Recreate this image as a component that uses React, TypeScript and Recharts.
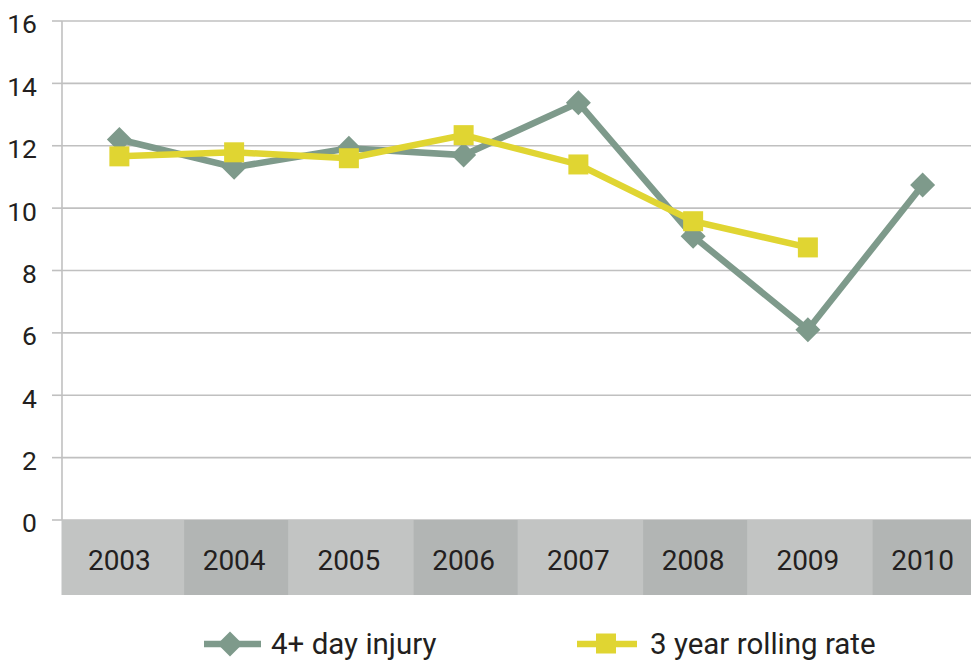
import React from 'react';
import { LineChart, Line, XAxis, YAxis, CartesianGrid, Legend } from 'recharts';

const years = ['2003', '2004', '2005', '2006', '2007', '2008', '2009', '2010'];
const injury4Day: (number | null)[] = [12.2, 11.31, 11.92, 11.7, 13.38, 9.1, 6.1, 10.74];
const rolling3Year: (number | null)[] = [11.66, 11.79, 11.6, 12.34, 11.4, 9.58, 8.74, null];
const yTicks = [0, 2, 4, 6, 8, 10, 12, 14, 16];
const seriesNames = ['4+ day injury', '3 year rolling rate'];

const data = years.map((y, i) => ({ year: y, injury: injury4Day[i], rolling: rolling3Year[i] }));

const GREEN = '#7e9a8b';
const YELLOW = '#e0d532';
const LIGHT = '#c2c4c3';
const DARK = '#b2b5b4';
const GRID = '#c0c0c0';
const TEXT = '#231f20';
const FONT = 'Roboto, "Liberation Sans", sans-serif';

const Diamond = (props: any) => {
  const { cx, cy } = props;
  if (cx == null || cy == null || props.value == null) return null;
  const r = 12.5;
  return <polygon points={`${cx},${cy - r} ${cx + r},${cy} ${cx},${cy + r} ${cx - r},${cy}`} fill={GREEN} />;
};

const Square = (props: any) => {
  const { cx, cy } = props;
  if (cx == null || cy == null || props.value == null) return null;
  return <rect x={cx - 10} y={cy - 10} width={20} height={20} fill={YELLOW} />;
};

const XTick = (props: any) => {
  const { x, y, payload, index } = props;
  const half = payload && payload.offset ? payload.offset : 57.4;
  return (
    <g>
      <rect x={x - half - 0.5} y={y} width={half * 2 + 1} height={75} fill={LIGHT} />
      {index % 2 === 1 && <rect x={x - 50} y={y} width={104} height={75} fill={DARK} />}
      <text x={x} y={y + 50} textAnchor="middle" fontSize={28} fontFamily={FONT} fill={TEXT}>
        {payload.value}
      </text>
    </g>
  );
};

const LegendContent = () => (
  <svg width={990} height={66} style={{ display: 'block' }}>
    <line x1={204} x2={261} y1={49} y2={49} stroke={GREEN} strokeWidth={6.5} />
    <polygon points={`230,36.5 242.5,49 230,61.5 217.5,49`} fill={GREEN} />
    <text x={271} y={59} fontSize={29.5} fontFamily={FONT} fill={TEXT}>{seriesNames[0]}</text>
    <line x1={577} x2={637} y1={49} y2={49} stroke={YELLOW} strokeWidth={6.5} />
    <rect x={596} y={38.5} width={20} height={20} fill={YELLOW} />
    <text x={650} y={59} fontSize={29.5} fontFamily={FONT} fill={TEXT}>{seriesNames[1]}</text>
  </svg>
);

export default function App() {
  return (
    <div style={{ position: 'fixed', left: 0, top: 0, width: 971, height: 661, overflow: 'hidden', background: '#fff' }}>
      <LineChart width={990} height={661} data={data} margin={{ top: 21, right: 10, bottom: 0, left: 0 }}>
        <CartesianGrid horizontal vertical={false} stroke={GRID} strokeWidth={1.6} />
        <XAxis
          dataKey="year"
          scale="band"
          axisLine={false}
          tickLine={false}
          tickSize={0}
          tickMargin={0}
          height={75}
          interval={0}
          tick={<XTick />}
        />
        <YAxis
          domain={[0, 16]}
          ticks={yTicks}
          width={62}
          tickSize={10}
          tickMargin={15}
          axisLine={{ stroke: GRID, strokeWidth: 1.6 }}
          tickLine={{ stroke: GRID, strokeWidth: 1.6 }}
          tick={{ fontSize: 26.5, fill: TEXT, fontFamily: FONT, dy: 3 }}
          interval={0}
        />
        <Legend
          verticalAlign="bottom"
          height={66}
          wrapperStyle={{ left: 0, bottom: 0, width: 990, height: 66 }}
          content={<LegendContent />}
        />
        <Line
          dataKey="injury"
          name={seriesNames[0]}
          stroke={GREEN}
          strokeWidth={6.5}
          dot={<Diamond />}
          activeDot={false}
          isAnimationActive={false}
        />
        <Line
          dataKey="rolling"
          name={seriesNames[1]}
          stroke={YELLOW}
          strokeWidth={6.5}
          dot={<Square />}
          activeDot={false}
          isAnimationActive={false}
        />
      </LineChart>
    </div>
  );
}
